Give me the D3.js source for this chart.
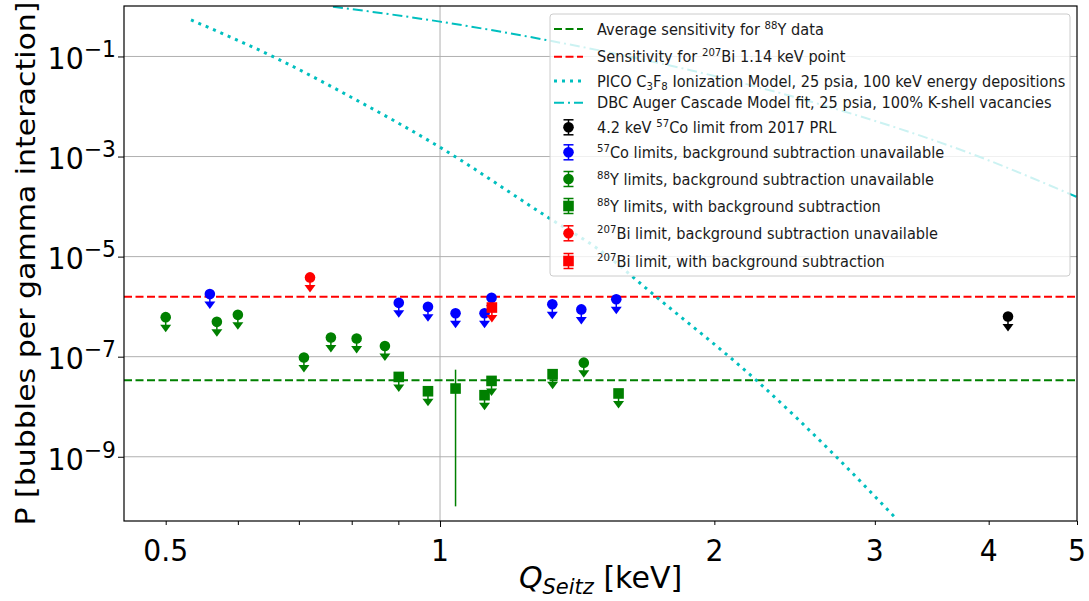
<!DOCTYPE html>
<html>
<head>
<meta charset="utf-8">
<script src="https://cdn.jsdelivr.net/npm/d3@7"></script>
<style>
  body { margin: 0; background: #fff; }
  svg { display: block; }
  text { font-family: "DejaVu Sans", sans-serif; fill: #000; }
</style>
</head>
<body>
<svg id="chart" width="1089" height="601"></svg>
<script>
// ---- axis ranges and ticks ----
const xDomain = [0.45, 5];
const yDomain = [5.2e-11, 1.02];
const xMajorTicks = [1];
const xLabelledMinorTicks = [0.5, 2, 3, 4, 5];
const xMinorTicks = [0.6, 0.7, 0.8, 0.9];
const yTicks = [1e-1, 1e-3, 1e-5, 1e-7, 1e-9];
const yTickExponents = ["\u22121", "\u22123", "\u22125", "\u22127", "\u22129"];

// ---- reference sensitivities ----
const y88AverageSensitivity = 3.39e-8;
const bi207Sensitivity = 1.58e-6;

// ---- model curves (Q_Seitz in keV, probability per gamma interaction) ----
const picoEnergy = [0.533, 0.656, 0.803, 1.0, 1.319, 1.497, 1.727, 2.223, 2.721, 3.166];
const picoProb   = [0.537, 0.099, 0.0146, 1.53e-3, 5.8e-5, 1.35e-5, 1.57e-6, 3.39e-8, 1.0e-9, 5.8e-11];
const dbcEnergy  = [0.763, 1.0, 1.319, 2.026, 2.628, 3.906, 5.0];
const dbcProb    = [0.99, 0.497, 0.207, 0.0384, 0.0107, 9.9e-4, 1.55e-4];

// ---- measured limits ----
const prlEnergy = [4.2];
const prlLimit  = [6.37e-7];

const co57Energy = [0.559, 0.901, 0.970, 1.040, 1.119, 1.139, 1.328, 1.429, 1.561];
const co57Limit  = [1.78e-6, 1.19e-6, 9.9e-7, 7.4e-7, 7.4e-7, 1.5e-6, 1.12e-6, 8.8e-7, 1.41e-6];

const y88NoBgEnergy = [0.500, 0.569, 0.600, 0.709, 0.759, 0.810, 0.870, 1.438];
const y88NoBgLimit  = [6.17e-7, 4.97e-7, 6.86e-7, 9.6e-8, 2.42e-7, 2.31e-7, 1.64e-7, 7.6e-8];

const y88BgEnergy  = [0.901, 0.970, 1.040, 1.119, 1.139, 1.329, 1.570];
const y88BgValue   = [3.94e-8, 2.04e-8, 2.31e-8, 1.70e-8, 3.28e-8, 4.47e-8, 1.84e-8];
const y88BgErrLow  = [null, null, 1.02e-10, null, null, null, null];
const y88BgErrHigh = [null, null, 5.5e-8, null, null, null, null];

const bi207NoBgEnergy = [0.720];
const bi207NoBgLimit  = [3.84e-6];
const bi207BgEnergy   = [1.14];
const bi207BgLimit    = [9.6e-7];

// ---- legend labels: [text, kind] segments, kind: "" | "sup" | "sub" ----
const legendLabels = [
  [["Average sensitivity for ", ""], ["88", "sup"], ["Y data", ""]],
  [["Sensitivity for ", ""], ["207", "sup"], ["Bi 1.14 keV point", ""]],
  [["PICO C", ""], ["3", "sub"], ["F", ""], ["8", "sub"], [" Ionization Model, 25 psia, 100 keV energy depositions", ""]],
  [["DBC Auger Cascade Model fit, 25 psia, 100% K-shell vacancies", ""]],
  [["4.2 keV ", ""], ["57", "sup"], ["Co limit from 2017 PRL", ""]],
  [["57", "sup"], ["Co limits, background subtraction unavailable", ""]],
  [["88", "sup"], ["Y limits, background subtraction unavailable", ""]],
  [["88", "sup"], ["Y limits, with background subtraction", ""]],
  [["207", "sup"], ["Bi limit, background subtraction unavailable", ""]],
  [["207", "sup"], ["Bi limit, with background subtraction", ""]]
];

// ---- layout ----
const plot = { left: 124, right: 1077, top: 6, bottom: 521 };
const TICK_FONT = 30;
const LEGEND_FONT = 15;
const CYAN = "#00bfbf";

const svg = d3.select("#chart");
const x = d3.scaleLog().domain(xDomain).range([plot.left, plot.right]);
const y = d3.scaleLog().domain(yDomain).range([plot.bottom, plot.top]);

svg.append("defs").append("clipPath").attr("id", "plotClip")
  .append("rect")
  .attr("x", plot.left).attr("y", plot.top)
  .attr("width", plot.right - plot.left).attr("height", plot.bottom - plot.top);

// ---- grid ----
const grid = svg.append("g").attr("stroke", "#b0b0b0").attr("stroke-width", 1);
grid.selectAll("line.h").data(yTicks).join("line")
  .attr("x1", plot.left).attr("x2", plot.right)
  .attr("y1", d => y(d)).attr("y2", d => y(d));
grid.selectAll("line.v").data(xMajorTicks).join("line")
  .attr("y1", plot.top).attr("y2", plot.bottom)
  .attr("x1", d => x(d)).attr("x2", d => x(d));

// ---- curves and reference lines ----
const curves = svg.append("g").attr("clip-path", "url(#plotClip)").attr("fill", "none");

curves.append("line")
  .attr("x1", plot.left).attr("x2", plot.right)
  .attr("y1", y(y88AverageSensitivity)).attr("y2", y(y88AverageSensitivity))
  .attr("stroke", "#008000").attr("stroke-width", 2).attr("stroke-dasharray", "8,3.5");
curves.append("line")
  .attr("x1", plot.left).attr("x2", plot.right)
  .attr("y1", y(bi207Sensitivity)).attr("y2", y(bi207Sensitivity))
  .attr("stroke", "#ff0000").attr("stroke-width", 2).attr("stroke-dasharray", "8,3.5");

const curveLine = d3.line().x(d => x(d[0])).y(d => y(d[1])).curve(d3.curveMonotoneX);
curves.append("path")
  .attr("d", curveLine(d3.zip(picoEnergy, picoProb)))
  .attr("stroke", CYAN).attr("stroke-width", 3).attr("stroke-dasharray", "3,5");
curves.append("path")
  .attr("d", curveLine(d3.zip(dbcEnergy, dbcProb)))
  .attr("stroke", CYAN).attr("stroke-width", 2).attr("stroke-dasharray", "10,4,2,4");

// ---- data points ----
const R = 5.3;
function drawMarker(g, shape, cx, cy, color) {
  if (shape === "circle") {
    g.append("circle").attr("cx", cx).attr("cy", cy).attr("r", R).attr("fill", color);
  } else {
    g.append("rect").attr("x", cx - R).attr("y", cy - R)
      .attr("width", 2 * R).attr("height", 2 * R).attr("fill", color);
  }
}
function drawLimitArrow(g, cx, cy, color) {
  g.append("line").attr("x1", cx).attr("x2", cx).attr("y1", cy).attr("y2", cy + 8)
    .attr("stroke", color).attr("stroke-width", 1.5);
  g.append("path")
    .attr("d", `M${cx - 5.5},${cy + 7.5}L${cx + 5.5},${cy + 7.5}L${cx},${cy + 15}Z`)
    .attr("fill", color);
}

const series = [
  { energy: prlEnergy, value: prlLimit, color: "#000000", shape: "circle" },
  { energy: co57Energy, value: co57Limit, color: "#0000ff", shape: "circle" },
  { energy: y88NoBgEnergy, value: y88NoBgLimit, color: "#008000", shape: "circle" },
  { energy: y88BgEnergy, value: y88BgValue, color: "#008000", shape: "square",
    errLow: y88BgErrLow, errHigh: y88BgErrHigh },
  { energy: bi207NoBgEnergy, value: bi207NoBgLimit, color: "#ff0000", shape: "circle" },
  { energy: bi207BgEnergy, value: bi207BgLimit, color: "#ff0000", shape: "square" }
];

const points = svg.append("g").attr("clip-path", "url(#plotClip)");
series.forEach(s => {
  const g = points.append("g");
  s.energy.forEach((e, i) => {
    const cx = x(e), cy = y(s.value[i]);
    const measured = s.errLow && s.errLow[i] != null;
    if (measured) {
      g.append("line").attr("x1", cx).attr("x2", cx)
        .attr("y1", y(s.errHigh[i])).attr("y2", y(s.errLow[i]))
        .attr("stroke", s.color).attr("stroke-width", 1.5);
    } else {
      drawLimitArrow(g, cx, cy, s.color);
    }
    drawMarker(g, s.shape, cx, cy, s.color);
  });
});

// ---- axes ----
const axes = svg.append("g");
function scaledText(parent, tx, ty, anchor, size, sx) {
  return parent.append("text")
    .attr("transform", `translate(${tx},${ty}) scale(${sx},1)`)
    .attr("text-anchor", anchor)
    .style("font-size", size + "px");
}

// x ticks
const xAx = axes.append("g").attr("transform", `translate(0,${plot.bottom})`);
xAx.call(d3.axisBottom(x).tickValues(xMajorTicks).tickSize(6).tickFormat(""));
xAx.append("g").call(d3.axisBottom(x).tickValues(xLabelledMinorTicks.concat(xMinorTicks)).tickSize(4).tickFormat(""));
xAx.selectAll(".domain").remove();
xAx.selectAll("line").attr("stroke", "#000").attr("stroke-width", 1);
xMajorTicks.concat(xLabelledMinorTicks).forEach(v => {
  scaledText(axes, x(v), plot.bottom + 40, "middle", TICK_FONT, 0.94).text(d3.format("")(v));
});

// y ticks
const yAx = axes.append("g").attr("transform", `translate(${plot.left},0)`);
yAx.call(d3.axisLeft(y).tickValues(yTicks).tickSize(6).tickFormat(""));
yAx.selectAll(".domain").remove();
yAx.selectAll("line").attr("stroke", "#000").attr("stroke-width", 1);
yTicks.forEach((v, i) => {
  const t = scaledText(axes, plot.left - 8, y(v) + 12.8, "end", TICK_FONT, 0.95);
  t.append("tspan").text("10");
  t.append("tspan").attr("dy", -12).style("font-size", "23px").text(yTickExponents[i]);
});

// spines
axes.append("rect")
  .attr("x", plot.left).attr("y", plot.top)
  .attr("width", plot.right - plot.left).attr("height", plot.bottom - plot.top)
  .attr("fill", "none").attr("stroke", "#000").attr("stroke-width", 1.2);

// axis titles
const xt = scaledText(svg, (plot.left + plot.right) / 2, 588, "middle", TICK_FONT, 1);
xt.append("tspan").style("font-style", "italic").text("Q");
xt.append("tspan").attr("dy", 6).style("font-style", "italic").style("font-size", "21px").text("Seitz");
xt.append("tspan").attr("dy", -6).text(" [keV]");

svg.append("text")
  .attr("transform", `translate(35,${(plot.top + plot.bottom) / 2}) rotate(-90) scale(1,0.9)`)
  .attr("text-anchor", "middle")
  .style("font-size", "30px")
  .text("P [bubbles per gamma interaction]");

// ---- legend ----
const legend = svg.append("g");
legend.append("rect")
  .attr("x", 550).attr("y", 14).attr("width", 520).attr("height", 262).attr("rx", 3)
  .attr("fill", "#fff").attr("fill-opacity", 0.8)
  .attr("stroke", "#cccccc").attr("stroke-width", 1);

const rowY = [29, 56.7, 81, 102.7, 127.3, 152.3, 179, 206, 233.3, 261];
const handleX0 = 554, handleX1 = 583, handleCX = 568.5, textX = 597;

const legendHandles = [
  { type: "line", color: "#008000", dash: "8,3.5", width: 2 },
  { type: "line", color: "#ff0000", dash: "8,3.5", width: 2 },
  { type: "line", color: CYAN, dash: "3,5", width: 3 },
  { type: "line", color: CYAN, dash: "10,4,2,4", width: 2 }
].concat(series.map(s => ({ type: "err", color: s.color, shape: s.shape })));

legendHandles.forEach((h, i) => {
  const cy = rowY[i];
  if (h.type === "line") {
    legend.append("line").attr("x1", handleX0).attr("x2", handleX1)
      .attr("y1", cy).attr("y2", cy)
      .attr("stroke", h.color).attr("stroke-width", h.width).attr("stroke-dasharray", h.dash);
  } else {
    const g = legend.append("g").attr("stroke", h.color).attr("stroke-width", 1.5);
    g.append("line").attr("x1", handleCX).attr("x2", handleCX).attr("y1", cy - 7.5).attr("y2", cy + 7.5);
    g.append("line").attr("x1", handleCX - 5).attr("x2", handleCX + 5).attr("y1", cy - 7.5).attr("y2", cy - 7.5);
    g.append("line").attr("x1", handleCX - 5).attr("x2", handleCX + 5).attr("y1", cy + 7.5).attr("y2", cy + 7.5);
    drawMarker(legend, h.shape, handleCX, cy, h.color);
  }
  const t = scaledText(legend, textX, cy + 5.5, "start", LEGEND_FONT, 0.97).style("fill", "#1a1a1a");
  let shift = 0;
  legendLabels[i].forEach(([str, kind]) => {
    const target = kind === "sup" ? -6 : kind === "sub" ? 3 : 0;
    const ts = t.append("tspan").attr("dy", target - shift).text(str);
    if (kind) ts.style("font-size", (LEGEND_FONT * 0.7) + "px");
    shift = target;
  });
});
</script>
</body>
</html>
